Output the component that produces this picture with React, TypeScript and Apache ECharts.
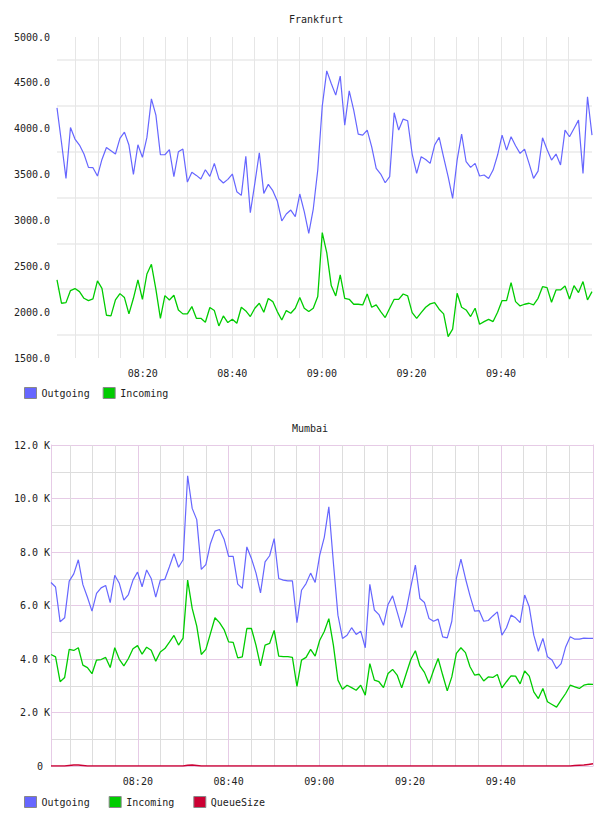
import React, { useEffect, useRef } from 'react';
import * as echarts from 'echarts';

// sample times: minutes after 08:00 of first sample, and spacing in minutes
const T0 = 0.85;
const STEP = 1.004;

const fraOutgoing = [
  4228, 3850, 3458, 4014, 3887, 3822, 3724, 3578, 3575, 3484,
  3665, 3796, 3760, 3724, 3894, 3963, 3822, 3502, 3825, 3687,
  3905, 4326, 4148, 3716, 3716, 3771, 3477, 3749, 3778, 3418,
  3524, 3491, 3451, 3553, 3480, 3622, 3455, 3408, 3448, 3506,
  3313, 3273, 3698, 3084, 3404, 3738, 3295, 3393, 3324, 3212,
  2994, 3070, 3113, 3041, 3288, 3095, 2859, 3124, 3550, 4246,
  4631, 4493, 4366, 4573, 4039, 4413, 4203, 3941, 3930, 3985,
  3803, 3567, 3506, 3411, 3477, 4174, 3985, 4105, 4087, 3724,
  3513, 3694, 3665, 3622, 3822, 3905, 3687, 3477, 3241, 3658,
  3941, 3640, 3578, 3622, 3484, 3495, 3458, 3549, 3713, 3930,
  3767, 3912, 3814, 3731, 3778, 3622, 3458, 3538, 3901, 3774,
  3658, 3724, 3604, 3985, 3912, 4003, 4094, 3513, 4348, 3930,
];

const fraIncoming = [
  2351, 2097, 2104, 2235, 2257, 2224, 2151, 2126, 2144, 2340,
  2260, 1966, 1959, 2133, 2202, 2159, 1981, 2151, 2351, 2140,
  2416, 2522, 2249, 1933, 2180, 2133, 2184, 2024, 1981, 1981,
  2061, 1933, 1933, 1890, 2050, 2017, 1850, 1959, 1886, 1922,
  1879, 2053, 2013, 1952, 2043, 2097, 1999, 2148, 2115, 2006,
  1915, 2017, 1988, 2043, 2159, 2043, 2006, 2043, 2170, 2867,
  2650, 2290, 2177, 2406, 2151, 2140, 2086, 2086, 2079, 2198,
  2053, 2079, 2006, 1941, 2043, 2140, 2140, 2198, 2177, 1995,
  1933, 1995, 2053, 2090, 2104, 2032, 1981, 1734, 1814, 2206,
  2053, 2024, 1952, 2043, 1868, 1897, 1922, 1897, 1999, 2126,
  2126, 2322, 2115, 2068, 2086, 2097, 2079, 2151, 2278, 2267,
  2108, 2242, 2242, 2286, 2144, 2289, 2213, 2333, 2133, 2224,
];

const mumOutgoing = [
  6860, 6690, 5390, 5540, 6910, 7180, 7710, 6780, 6310, 5790,
  6450, 6660, 6750, 6110, 7130, 6830, 6200, 6410, 6950, 7250,
  6700, 7330, 7010, 6310, 6950, 6980, 7450, 7940, 7430, 7710,
  10850, 9630, 9210, 7350, 7530, 8310, 8780, 8840, 8480, 7840,
  7840, 6800, 6640, 8190, 7760, 7220, 6470, 7630, 7860, 8500,
  7010, 6950, 6920, 6920, 5360, 6570, 6820, 7210, 6860, 7880,
  8550, 9690, 7600, 5640, 4770, 4890, 5170, 4920, 5040, 4420,
  6790, 5830, 5660, 5260, 6040, 6360, 5760, 5170, 5830, 6700,
  7510, 6260, 6110, 5510, 5410, 5490, 4830, 4790, 5410, 7010,
  7730, 7010, 6360, 5790, 5810, 5410, 5440, 5610, 5760, 4890,
  5170, 5640, 5540, 5360, 6390, 5950, 4890, 4290, 4770, 4080,
  3960, 3640, 3830, 4450, 4830, 4740, 4740, 4780, 4770, 4770,
];

const mumIncoming = [
  4170, 4080, 3150, 3310, 4360, 4320, 4420, 3770, 3680, 3450,
  3960, 3980, 4060, 3680, 4420, 3990, 3740, 4020, 4380, 4500,
  4180, 4440, 4330, 3920, 4260, 4390, 4630, 4880, 4520, 4780,
  6950, 5890, 5230, 4170, 4360, 4950, 5540, 5360, 5100, 4640,
  4620, 4040, 4080, 5140, 5140, 4520, 3740, 4520, 4580, 5070,
  4110, 4090, 4090, 4060, 2980, 3960, 4060, 4360, 4110, 4700,
  5030, 5510, 4520, 3210, 2870, 3020, 2930, 2830, 3020, 2650,
  3830, 3210, 3150, 2930, 3460, 3610, 3400, 2920, 3460, 3980,
  4310, 3740, 3500, 3080, 3580, 4020, 3400, 2810, 3330, 4210,
  4420, 4240, 3710, 3400, 3430, 3180, 3330, 3310, 3420, 2920,
  3150, 3370, 3360, 3070, 3550, 3360, 2770, 2520, 2900, 2400,
  2300, 2200, 2460, 2710, 3020, 2960, 2900, 3020, 3060, 3050,
];

const mumQueueSize = [
  0, 0, 0, 0, 20, 40, 40, 20, 0, 0,
  0, 0, 0, 0, 0, 0, 0, 0, 0, 0,
  0, 0, 0, 0, 0, 0, 0, 0, 0, 0,
  30, 40, 20, 0, 0, 0, 0, 0, 0, 0,
  0, 0, 0, 0, 0, 0, 0, 0, 0, 0,
  0, 0, 0, 0, 0, 0, 0, 0, 0, 0,
  0, 0, 0, 0, 0, 0, 0, 0, 0, 0,
  0, 0, 0, 0, 0, 0, 0, 0, 0, 0,
  0, 0, 0, 0, 0, 0, 0, 0, 0, 0,
  0, 0, 0, 0, 0, 0, 0, 0, 0, 0,
  0, 0, 0, 0, 0, 0, 0, 0, 0, 0,
  0, 0, 0, 0, 0, 20, 30, 40, 60, 80,
];

// axis ticks (minutes after 08:00, and values)
const FIVE_MIN_TICKS = [5, 10, 15, 20, 25, 30, 35, 40, 45, 50, 55, 60, 65, 70, 75, 80, 85, 90, 95, 100, 105, 110, 115];
const TIME_LABELS = [20, 40, 60, 80, 100];
const FIVE_MIN_MINOR = [5, 10, 15, 25, 30, 35, 45, 50, 55, 65, 70, 75, 85, 90, 95, 105, 110, 115];
const FRA_GRID_LINES = [1750, 2250, 2750, 3250, 3750, 4250, 4750];

const FONT = 'DejaVu Sans Mono';
const TXT = '#222222';
const C_OUT = '#6666ff';
const C_IN = '#00cc00';
const C_Q = '#cc0033';
const PINK = '#e6cbe6';
const GRAY_B = '#dddddd';

const toPairs = (vals: number[]) => vals.map((v, i) => [T0 + i * STEP, v]);
const X_MIN = T0;
const X_MAX = T0 + (fraOutgoing.length - 1) * STEP;

const fmtTime = (m: number) => {
  const total = Math.round(m);
  const h = 8 + Math.floor(total / 60);
  const mm = total % 60;
  return `${String(h).padStart(2, '0')}:${String(mm).padStart(2, '0')}`;
};

const fmtK = (v: number) => {
  if (v === 0) return '{z|0}';
  if (v % 2000 !== 0) return '';
  return `${(v / 1000).toFixed(1)} K`;
};

export default function App() {
  const ref = useRef<HTMLDivElement>(null);
  useEffect(() => {
    if (!ref.current) return;
    const chart = echarts.init(ref.current, undefined, { renderer: 'svg' });
    const labelStyle = { fontFamily: FONT, fontSize: 10, color: TXT };
    const option: any = {
      animation: false,
      title: [
        { text: 'Frankfurt', left: 281, top: 6, padding: 0, textStyle: { fontFamily: FONT, fontSize: 10, fontWeight: 'normal', color: TXT } },
        { text: 'Mumbai', left: 284, top: 415, padding: 0, textStyle: { fontFamily: FONT, fontSize: 10, fontWeight: 'normal', color: TXT } },
      ],
      legend: [
        {
          left: 16, top: 379, padding: 0, icon: 'rect', itemWidth: 12, itemHeight: 11, itemGap: 13,
          data: ['Outgoing', 'Incoming'],
          textStyle: labelStyle,
          itemStyle: { borderColor: '#888888', borderWidth: 1 },
        },
        {
          left: 16, top: 788, padding: 0, icon: 'rect', itemWidth: 12, itemHeight: 11, itemGap: 19,
          data: ['Outgoing', 'Incoming', 'QueueSize'],
          textStyle: labelStyle,
          itemStyle: { borderColor: '#888888', borderWidth: 1 },
        },
      ],
      grid: [
        { left: 49, top: 29, width: 535, height: 321 },
        { left: 43, top: 437, width: 542, height: 321 },
      ],
      xAxis: [
        {
          gridIndex: 0, type: 'value', position: 'bottom', min: X_MIN, max: X_MAX,
          axisLine: { show: false },
          axisTick: { show: false, customValues: FIVE_MIN_TICKS },
          splitLine: { show: true, lineStyle: { color: '#e6e6e6', width: 1 } },
          axisLabel: { ...labelStyle, customValues: TIME_LABELS, formatter: fmtTime, margin: 10 },
        },
        {
          gridIndex: 1, type: 'value', position: 'bottom', min: X_MIN, max: X_MAX,
          axisLine: { show: false },
          axisTick: { show: false, customValues: FIVE_MIN_MINOR },
          splitLine: { show: true, lineStyle: { color: GRAY_B, width: 1 } },
          axisLabel: { show: false },
        },
        {
          gridIndex: 1, type: 'value', position: 'bottom', min: X_MIN, max: X_MAX,
          axisLine: { show: false },
          axisTick: { show: false, customValues: TIME_LABELS },
          splitLine: { show: true, lineStyle: { color: PINK, width: 1 } },
          axisLabel: { ...labelStyle, customValues: TIME_LABELS, formatter: fmtTime, margin: 10 },
        },
      ],
      yAxis: [
        {
          gridIndex: 0, type: 'value', min: 1500, max: 5000, interval: 500,
          axisLine: { show: false },
          axisTick: { show: false, customValues: FRA_GRID_LINES },
          splitLine: { show: true, lineStyle: { color: '#efefef', width: 2 } },
          axisLabel: { ...labelStyle, margin: 7, formatter: (v: number) => v.toFixed(1) },
        },
        {
          gridIndex: 1, type: 'value', min: 0, max: 12000, interval: 1000,
          axisLine: { show: true, lineStyle: { color: PINK, width: 1 } },
          axisTick: { show: false },
          splitLine: { show: true, lineStyle: { color: [PINK, GRAY_B], width: 1 } },
          axisLabel: {
            ...labelStyle, margin: 1,
            formatter: fmtK,
            rich: { z: { fontFamily: FONT, fontSize: 10, color: TXT, padding: [0, 7, 0, 0] } },
          },
        },
        {
          gridIndex: 1, type: 'value', min: 0, max: 12000, interval: 1000, position: 'right',
          axisLine: { show: true, lineStyle: { color: PINK, width: 1 } },
          axisTick: { show: false }, splitLine: { show: false }, axisLabel: { show: false },
        },
      ],
      series: [
        { name: 'Outgoing', type: 'line', xAxisIndex: 0, yAxisIndex: 0, showSymbol: false, data: toPairs(fraOutgoing), lineStyle: { color: C_OUT, width: 1.2 }, itemStyle: { color: C_OUT } },
        { name: 'Incoming', type: 'line', xAxisIndex: 0, yAxisIndex: 0, showSymbol: false, data: toPairs(fraIncoming), lineStyle: { color: C_IN, width: 1.3 }, itemStyle: { color: C_IN } },
        { name: 'Outgoing', type: 'line', xAxisIndex: 2, yAxisIndex: 1, showSymbol: false, data: toPairs(mumOutgoing), lineStyle: { color: C_OUT, width: 1.2 }, itemStyle: { color: C_OUT } },
        { name: 'Incoming', type: 'line', xAxisIndex: 2, yAxisIndex: 1, showSymbol: false, data: toPairs(mumIncoming), lineStyle: { color: C_IN, width: 1.3 }, itemStyle: { color: C_IN } },
        { name: 'QueueSize', type: 'line', xAxisIndex: 2, yAxisIndex: 1, showSymbol: false, data: toPairs(mumQueueSize), lineStyle: { color: C_Q, width: 1.5 }, itemStyle: { color: C_Q } },
      ],
    };
    chart.setOption(option);
    return () => chart.dispose();
  }, []);
  return <div ref={ref} style={{ width: 592, height: 800 }} />;
}
